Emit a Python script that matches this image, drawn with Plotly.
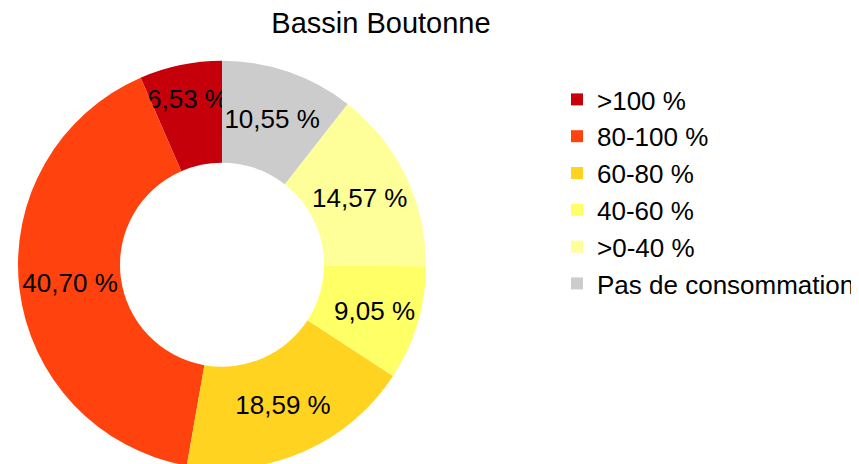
import plotly.graph_objects as go

categories = [">100 %", "80-100 %", "60-80 %", "40-60 %", ">0-40 %", "Pas de consommation"]
shares = [6.53, 40.70, 18.59, 9.05, 14.57, 10.55]
colors = ["#C5000B", "#FF420E", "#FFD320", "#FFFF66", "#FFFF99", "#CCCCCC"]

labels_txt = [f"{v:.2f}".replace(".", ",") + " %" for v in shares]

W, H = 859, 464
# page offset compensation (body margin)
OFF = 8

fig = go.Figure(go.Pie(
    labels=categories,
    values=shares,
    text=labels_txt,
    textinfo="text",
    textposition="inside",
    insidetextorientation="horizontal",
    sort=False,
    direction="counterclockwise",
    rotation=-shares[0] * 3.6,
    hole=0.5,
    marker=dict(colors=colors, line=dict(width=0)),
    textfont=dict(size=26, color="black"),
    domain=dict(x=[0, 428 / W], y=[3.3 / H, 411.3 / H]),
))

fig.update_layout(
    width=W, height=H,
    margin=dict(l=0, r=0, t=0, b=0),
    paper_bgcolor="white",
    font=dict(family="Liberation Sans, Arial, sans-serif", color="black"),
    title=dict(text="Bassin Boutonne", x=(381 - OFF) / W, xanchor="center",
               y=1 - 15 / H, yanchor="middle", yref="container",
               font=dict(size=29, color="black")),
    uniformtext=dict(minsize=26, mode="show"),
    showlegend=True,
    legend=dict(x=(597 - OFF - 40) / W, xanchor="left", y=1 - 68 / H, yanchor="top",
                font=dict(size=26, color="black"), bgcolor="rgba(0,0,0,0)",
                traceorder="normal"),
)

fig.write_html("out.html")
